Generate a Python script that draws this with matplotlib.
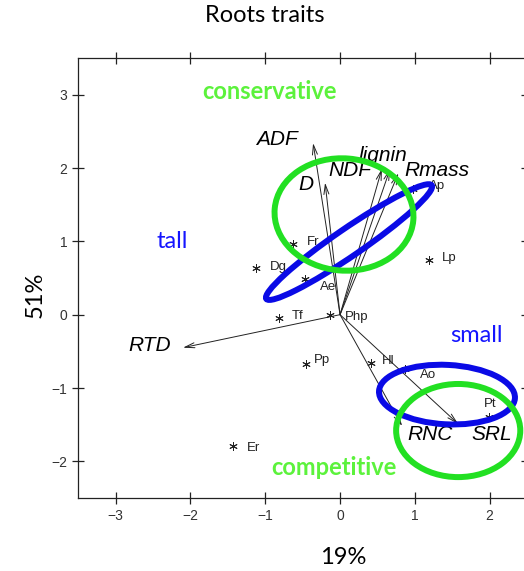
import matplotlib
matplotlib.use('Agg')
import matplotlib.pyplot as plt
from matplotlib.patches import Ellipse

# ---------------- data ----------------
var_names = ['ADF', 'D', 'NDF', 'lignin', 'Rmass', 'RTD', 'RNC', 'SRL']
var_x = [-0.36, -0.20, 0.56, 0.67, 0.78, -2.10, 0.83, 1.58]
var_y = [2.34, 1.80, 1.99, 1.99, 1.93, -0.45, -1.52, -1.49]
var_label_x = [-0.84, -0.45, 0.13, 0.57, 1.30, -2.54, 1.20, 2.03]
var_label_y = [2.39, 1.78, 1.97, 2.17, 1.97, -0.42, -1.64, -1.64]

species = ['Fr', 'Dg', 'Ae', 'Ap', 'Lp', 'Tf', 'Php', 'Pp', 'Hl', 'Ao', 'Pt', 'Er']
sp_x = [-0.63, -1.12, -0.47, 0.98, 1.19, -0.82, -0.13, -0.45, 0.41, 0.87, 1.99, -1.43]
sp_y = [0.97, 0.64, 0.48, 1.72, 0.75, -0.05, -0.01, -0.67, -0.66, -0.74, -1.39, -1.79]

x_ticks = [-3, -2, -1, 0, 1, 2]
y_ticks = [-2, -1, 0, 1, 2, 3]

# group annotations (text, x, y)
group_text = ['conservative', 'competitive', 'tall', 'small']
group_x = [-0.945, -0.08, -2.24, 1.83]
group_y = [3.04, -2.08, 1.00, -0.29]

# ellipses: centre x, centre y, width, height, angle
ell_cx = [0.12, 0.053, 1.43, 1.58]
ell_cy = [0.99, 1.366, -1.09, -1.58]
ell_w = [2.70, 1.86, 1.82, 1.66]
ell_h = [0.37, 1.53, 0.81, 1.27]
ell_ang = [35, -5, -3, 0]

# ---------------- styles ----------------
label_offsets = [(20, 2), (22, 1), (23, -8), (24, 3), (20, 2), (19, 2),
                 (26, -2), (16, 4), (17, 2), (23, -6), (1, 13), (20, -2)]
BLUE = '#0a0ae6'
GREEN = '#22e022'
TXT_GREEN = '#5cf23c'
TXT_BLUE = '#1515ff'
ell_colors = [BLUE, GREEN, BLUE, GREEN]
group_colors = [TXT_GREEN, TXT_GREEN, TXT_BLUE, TXT_BLUE]
group_weight = ['bold', 'bold', 'normal', 'normal']

W, H = 524, 571
fig = plt.figure(figsize=(W / 100, H / 100), dpi=100)
left, right, top, bottom = 78.3, 527.0, 58.0, 498.0
ax = fig.add_axes([left / W, 1 - bottom / H, (right - left) / W, (bottom - top) / H])
ax.set_xlim(-3.5, 2.5)
ax.set_ylim(-2.5, 3.5)

for sp in ax.spines.values():
    sp.set_linewidth(0.9)
    sp.set_color('#222222')

ax.set_xticks(x_ticks)
ax.set_yticks(y_ticks)
ax.set_xticklabels([str(t).replace('-', '\u2212') for t in x_ticks])
ax.set_yticklabels([str(t).replace('-', '\u2212') for t in y_ticks])
ax.tick_params(direction='inout', length=8, width=0.9, colors='#222222',
               top=True, right=True, labelsize=10, pad=4)
for lab in ax.get_xticklabels() + ax.get_yticklabels():
    lab.set_fontfamily('Liberation Sans')
    lab.set_color('#333333')

# arrows
for name, x, y, lx, ly in zip(var_names, var_x, var_y, var_label_x, var_label_y):
    ax.annotate('', xy=(x, y), xytext=(0, 0),
                arrowprops=dict(arrowstyle='->,head_length=0.7,head_width=0.18',
                                lw=0.7, color='#222222', shrinkA=0, shrinkB=0),
                zorder=2)
    ax.text(lx, ly, name, fontsize=15, style='italic', family='Liberation Sans',
            ha='center', va='center', color='black', zorder=3)

# species points
ax.plot(sp_x, sp_y, linestyle='none', marker=(6, 2, 0), markersize=6,
        markeredgewidth=0.7, color='#222222', zorder=3)
for name, x, y, off in zip(species, sp_x, sp_y, label_offsets):
    ax.annotate(name, xy=(x, y), xytext=off, textcoords='offset pixels',
                fontsize=9.5, family='Liberation Sans', ha='center', va='center',
                color='#222222', zorder=3)

# ellipses
for cx, cy, w, h, a, c in zip(ell_cx, ell_cy, ell_w, ell_h, ell_ang, ell_colors):
    ax.add_patch(Ellipse((cx, cy), w, h, angle=a, fill=False, edgecolor=c,
                         linewidth=4.3, zorder=5))

# group texts
for t, x, y, c, wgt in zip(group_text, group_x, group_y, group_colors, group_weight):
    ax.text(x, y, t, fontsize=17, color=c, fontweight=wgt, family='Lato',
            ha='center', va='center', zorder=6)

fig.text(265 / W, 1 - 15 / H, 'Roots traits', fontsize=17, family='Lato',
         ha='center', va='center')
fig.text(35 / W, 1 - 295 / H, '51%', fontsize=17, family='Lato', rotation=90,
         ha='center', va='center')
fig.text(343 / W, 1 - 558 / H, '19%', fontsize=17, family='Lato',
         ha='center', va='center')

fig.savefig('out.png', dpi=100)
